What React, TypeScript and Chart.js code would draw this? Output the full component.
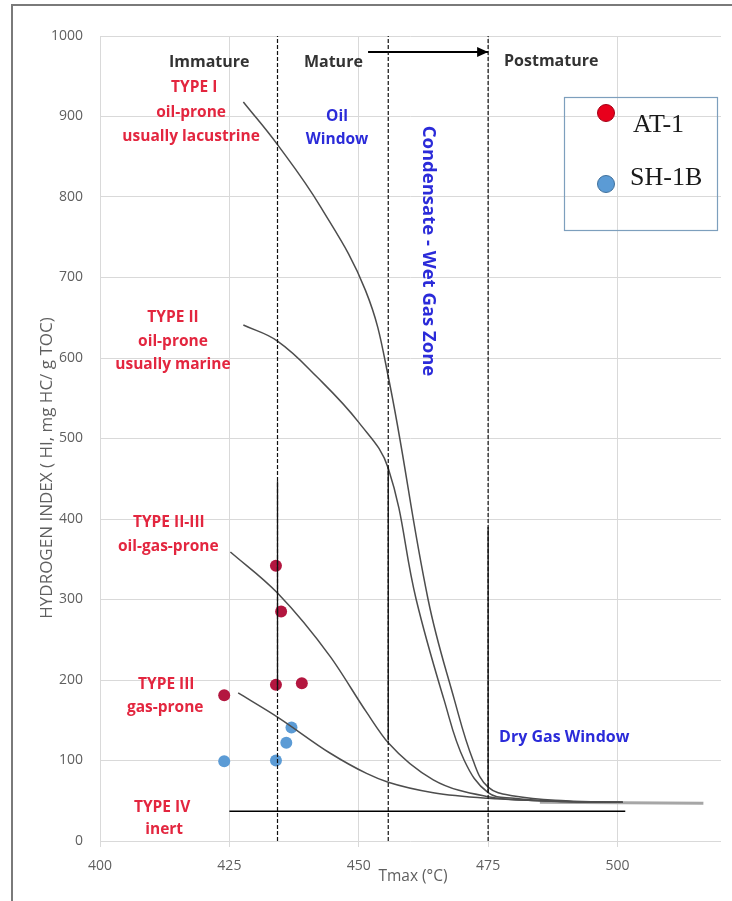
import React, { useEffect, useRef } from "react";
import { Chart, registerables } from "chart.js";
Chart.register(...registerables);

// ---- Data ----
const xTickValues = [400, 425, 450, 475, 500];
const yTickValues = [0, 100, 200, 300, 400, 500, 600, 700, 800, 900, 1000];

const at1Tmax = [434, 435, 434, 439, 424];
const at1HI = [342, 285, 194, 196, 181];

const sh1bTmax = [424, 434, 436, 437];
const sh1bHI = [99, 100, 122, 141];

const typeITmax = [427.7, 434.3, 442.6, 451.3, 455.7, 463.4, 468.5, 472.1, 475, 480, 490, 501];
const typeIHI = [918, 865, 788, 684, 577, 300, 175, 100, 67, 56, 50, 48];

const typeIITmax = [427.7, 434.3, 442, 450, 455.7, 461.1, 466.5, 470.4, 475, 480, 490, 501];
const typeIIHI = [641, 621, 576, 520, 463, 300, 175, 100, 60, 53, 49, 48];

const typeIIIIITmax = [425.2, 434.3, 444.5, 451.5, 455.7, 464.4, 475, 485, 501];
const typeIIIIIHI = [359, 308, 229, 160, 122, 76, 55, 50, 48];

const typeIIITmax = [426.7, 434.3, 444.5, 451.5, 455.7, 464.4, 475, 490, 501];
const typeIIIHI = [184, 154, 109, 84, 73, 60, 53, 49, 48];

const tailTmax = [485, 516.6];
const tailHI = [48, 47];

const typeIVTmax = [425, 501.5];
const typeIVHI = [37, 37];

// maturity boundaries (Tmax) and the HI span of their solid overlays
const boundaryTmax = [434.3, 455.7, 475];
const boundarySolidTop = [447, 465, 390];
const boundarySolidBottom = [188, 125, 60];

const arrowTmax = [451.8, 475];
const arrowHI = [980, 980];

type Note = { text: string; x: number; y: number; kind: string };
const notes: Note[] = [
  { text: "Immature", x: 421.1, y: 967.7, kind: "stage" },
  { text: "Mature", x: 445.1, y: 967.7, kind: "stage" },
  { text: "Postmature", x: 487.2, y: 969, kind: "stage" },
  { text: "TYPE I", x: 418.2, y: 935.4, kind: "type" },
  { text: "oil-prone", x: 417.6, y: 904.3, kind: "type" },
  { text: "usually lacustrine", x: 417.6, y: 874.5, kind: "type" },
  { text: "Oil", x: 445.8, y: 899.4, kind: "zone" },
  { text: "Window", x: 445.8, y: 870.8, kind: "zone" },
  { text: "TYPE II", x: 414.1, y: 649.7, kind: "type" },
  { text: "oil-prone", x: 414.1, y: 619.9, kind: "type" },
  { text: "usually marine", x: 414.1, y: 591.3, kind: "type" },
  { text: "TYPE II-III", x: 413.3, y: 395, kind: "type" },
  { text: "oil-gas-prone", x: 413.2, y: 365.2, kind: "type" },
  { text: "TYPE III", x: 412.8, y: 193.8, kind: "type" },
  { text: "gas-prone", x: 412.6, y: 165.2, kind: "type" },
  { text: "TYPE IV", x: 412, y: 41, kind: "type" },
  { text: "inert", x: 412.4, y: 13.7, kind: "type" },
  { text: "Dry Gas Window", x: 489.7, y: 129.2, kind: "zone2" },
  { text: "Condensate - Wet Gas Zone", x: 463.4, y: 733, kind: "vzone" },
];

const legendItems = ["AT-1", "SH-1B"];
const yTitle = "HYDROGEN INDEX ( HI, mg HC/ g TOC)";
const xTitle = "Tmax (°C)";

const zip = (xs: number[], ys: number[]) => xs.map((x, i) => ({ x, y: ys[i] }));

const curveStyle = {
  showLine: true,
  pointRadius: 0,
  borderColor: "#4d4d4d",
  borderWidth: 1.5,
  cubicInterpolationMode: "monotone" as const,
  fill: false,
};

const smoothCurveStyle = {
  showLine: true,
  pointRadius: 0,
  borderColor: "#4d4d4d",
  borderWidth: 1.5,
  tension: 0.4,
  fill: false,
};

const overlayPlugin = {
  id: "overlayPlugin",
  beforeDraw(chart: any) {
    const ctx = chart.ctx;
    ctx.save();
    ctx.fillStyle = "#ffffff";
    ctx.fillRect(0, 0, chart.width, chart.height);
    ctx.strokeStyle = "#7a7a7a";
    ctx.lineWidth = 2;
    ctx.beginPath();
    ctx.moveTo(12, chart.height);
    ctx.lineTo(12, 5);
    ctx.lineTo(chart.width, 5);
    ctx.stroke();
    ctx.restore();
  },
  afterDatasetsDraw(chart: any) {
    const ctx = chart.ctx;
    const xs = chart.scales.x;
    const ys = chart.scales.y;
    ctx.save();
    // arrow head
    const ax = xs.getPixelForValue(arrowTmax[1]);
    const ay = ys.getPixelForValue(arrowHI[1]);
    ctx.fillStyle = "#000";
    ctx.beginPath();
    ctx.moveTo(ax, ay);
    ctx.lineTo(ax - 11, ay - 5);
    ctx.lineTo(ax - 11, ay + 5);
    ctx.closePath();
    ctx.fill();

    // annotations
    ctx.textAlign = "center";
    ctx.textBaseline = "middle";
    for (const n of notes) {
      const px = xs.getPixelForValue(n.x);
      const py = ys.getPixelForValue(n.y);
      if (n.kind === "stage") {
        ctx.fillStyle = "#333333";
        ctx.font = "bold 16px 'Open Sans'";
      } else if (n.kind === "type") {
        ctx.fillStyle = "#e3263f";
        ctx.font = "bold 15.5px 'Open Sans'";
      } else if (n.kind === "zone2") {
        ctx.fillStyle = "#2b2bd9";
        ctx.font = "bold 16px 'Open Sans'";
      } else {
        ctx.fillStyle = "#2b2bd9";
        ctx.font = "bold 15.5px 'Open Sans'";
      }
      if (n.kind === "vzone") {
        ctx.save();
        ctx.translate(px, py);
        ctx.rotate(Math.PI / 2);
        ctx.font = "bold 18.5px 'Open Sans'";
        ctx.fillText(n.text, 0, 0);
        ctx.restore();
      } else {
        ctx.fillText(n.text, px, py);
      }
    }

    // axis titles
    ctx.fillStyle = "#5f5f5f";
    ctx.font = "15.5px 'Open Sans'";
    ctx.fillText(xTitle, 413, 877);
    ctx.save();
    ctx.translate(47, 468);
    ctx.rotate(-Math.PI / 2);
    ctx.font = "17px 'Open Sans'";
    ctx.fillText(yTitle, 0, 0);
    ctx.restore();

    // legend
    ctx.strokeStyle = "#7d9fbd";
    ctx.lineWidth = 1.2;
    ctx.strokeRect(564.5, 97.5, 153, 133);
    const dots = [
      { fill: "#e8001c", stroke: "#a50016", cy: 113 },
      { fill: "#5b9bd5", stroke: "#41719c", cy: 184 },
    ];
    const textPos = [
      { x: 633, y: 125 },
      { x: 630, y: 178 },
    ];
    legendItems.forEach((label, i) => {
      ctx.beginPath();
      ctx.arc(606, dots[i].cy, 8.5, 0, Math.PI * 2);
      ctx.fillStyle = dots[i].fill;
      ctx.fill();
      ctx.lineWidth = 1;
      ctx.strokeStyle = dots[i].stroke;
      ctx.stroke();
      ctx.fillStyle = "#1a1a1a";
      ctx.font = "26px 'Liberation Serif'";
      ctx.textAlign = "left";
      ctx.textBaseline = "middle";
      ctx.fillText(label, textPos[i].x, textPos[i].y);
    });
    ctx.restore();
  },
};

export default function App() {
  const ref = useRef<HTMLCanvasElement | null>(null);
  useEffect(() => {
    if (!ref.current) return;
    const boundaryDatasets: any[] = [];
    boundaryTmax.forEach((t, i) => {
      boundaryDatasets.push({
        data: [{ x: t, y: 0 }, { x: t, y: 1000 }],
        showLine: true,
        pointRadius: 0,
        borderColor: "#111",
        borderWidth: 1.2,
        borderDash: [4, 2],
      });
      boundaryDatasets.push({
        data: [{ x: t, y: boundarySolidBottom[i] }, { x: t, y: boundarySolidTop[i] }],
        showLine: true,
        pointRadius: 0,
        borderColor: "#111",
        borderWidth: 1.3,
      });
    });
    const chart = new Chart(ref.current, {
      type: "scatter",
      data: {
        datasets: [
          ...boundaryDatasets,
          { data: zip(arrowTmax, arrowHI), showLine: true, pointRadius: 0, borderColor: "#000", borderWidth: 2 },
          { data: zip(typeIVTmax, typeIVHI), showLine: true, pointRadius: 0, borderColor: "#000", borderWidth: 1.5 },
          { ...smoothCurveStyle, data: zip(typeITmax, typeIHI) },
          { ...smoothCurveStyle, data: zip(typeIITmax, typeIIHI) },
          { ...curveStyle, data: zip(typeIIIIITmax, typeIIIIIHI) },
          { ...curveStyle, data: zip(typeIIITmax, typeIIIHI) },
          { data: zip(tailTmax, tailHI), showLine: true, pointRadius: 0, borderColor: "#a6a6a6", borderWidth: 3 },
          {
            label: legendItems[0],
            data: zip(at1Tmax, at1HI),
            pointRadius: 6,
            pointBackgroundColor: "#b3163f",
            pointBorderWidth: 0,
            showLine: false,
          },
          {
            label: legendItems[1],
            data: zip(sh1bTmax, sh1bHI),
            pointRadius: 6,
            pointBackgroundColor: "#5b9bd5",
            pointBorderWidth: 0,
            showLine: false,
          },
        ],
      },
      options: {
        animation: false,
        responsive: false,
        devicePixelRatio: 1,
        layout: { padding: { left: 0, top: 36, right: 11, bottom: 0 } },
        plugins: { legend: { display: false }, tooltip: { enabled: false } },
        scales: {
          x: {
            type: "linear",
            min: 400,
            max: 520,
            afterFit: (s: any) => {
              s.height = 60;
            },
            afterBuildTicks: (s: any) => {
              s.ticks = xTickValues.map((v) => ({ value: v }));
            },
            ticks: {
              color: "#5f5f5f",
              font: { family: "'Open Sans'", size: 14 },
              padding: 11,
              maxRotation: 0,
              callback: (v: any) => String(v),
            },
            grid: { color: "#d9d9d9", lineWidth: 1, drawTicks: true, tickLength: 6 },
            border: { display: false },
          },
          y: {
            type: "linear",
            min: 0,
            max: 1000,
            afterFit: (s: any) => {
              s.width = 100;
            },
            afterBuildTicks: (s: any) => {
              s.ticks = yTickValues.map((v) => ({ value: v }));
            },
            ticks: {
              color: "#5f5f5f",
              font: { family: "'Open Sans'", size: 14 },
              padding: 17,
              callback: (v: any) => String(v),
            },
            grid: { color: "#d9d9d9", lineWidth: 1, drawTicks: false },
            border: { display: false },
          },
        },
      },
      plugins: [overlayPlugin],
    });
    return () => chart.destroy();
  }, []);
  return (
    <div style={{ position: "fixed", left: 0, top: 0, width: 732, height: 901, background: "#fff" }}>
      <canvas ref={ref} width={732} height={901} style={{ display: "block" }} />
    </div>
  );
}
